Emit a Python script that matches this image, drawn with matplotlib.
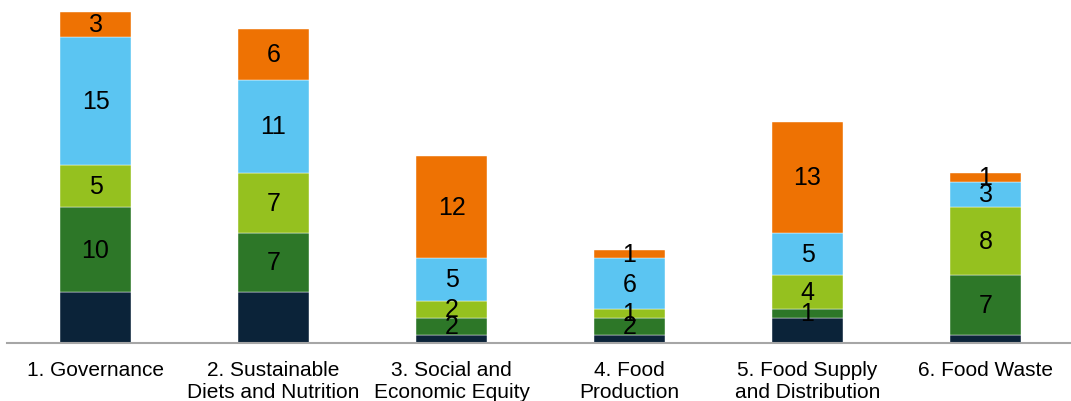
import matplotlib.pyplot as plt

categories = [
    "1. Governance",
    "2. Sustainable\nDiets and Nutrition",
    "3. Social and\nEconomic Equity",
    "4. Food\nProduction",
    "5. Food Supply\nand Distribution",
    "6. Food Waste",
]

# stacked from bottom to top
navy = [6, 6, 1, 1, 3, 1]
dark_green = [10, 7, 2, 2, 1, 7]
lime = [5, 7, 2, 1, 4, 8]
light_blue = [15, 11, 5, 6, 5, 3]
orange = [3, 6, 12, 1, 13, 1]

series = [
    (navy, "#0B2339", False),
    (dark_green, "#2D7728", True),
    (lime, "#95C11F", True),
    (light_blue, "#5BC5F2", True),
    (orange, "#EE7203", True),
]


def main():
    plt.rcParams["font.family"] = ["Liberation Sans", "DejaVu Sans"]

    fig = plt.figure(figsize=(10.71, 4.02), dpi=100)
    ax = fig.add_axes([6.5 / 1071, 58 / 402, 1068 / 1071, 340 / 402])

    x = list(range(len(categories)))
    bottom = [0] * len(categories)
    for values, color, labelled in series:
        bars = ax.bar(x, values, width=0.4, bottom=bottom, color=color,
                      edgecolor="white", linewidth=0.3)
        if labelled:
            ax.bar_label(bars, labels=[str(v) for v in values],
                         label_type="center", fontsize=18, color="black")
        bottom = [b + v for b, v in zip(bottom, values)]

    ax.set_xlim(-0.5, 5.5)
    ax.set_ylim(0, 40)
    ax.set_xticks(x)
    ax.set_xticklabels(categories, fontsize=15, linespacing=1.25)
    ax.tick_params(axis="x", length=0, pad=12)
    ax.set_yticks([])
    for side in ("top", "right", "left"):
        ax.spines[side].set_visible(False)
    ax.spines["bottom"].set_color("#A6A6A6")
    ax.spines["bottom"].set_linewidth(1.5)

    fig.savefig("out.png", dpi=100)


if __name__ == "__main__":
    main()
